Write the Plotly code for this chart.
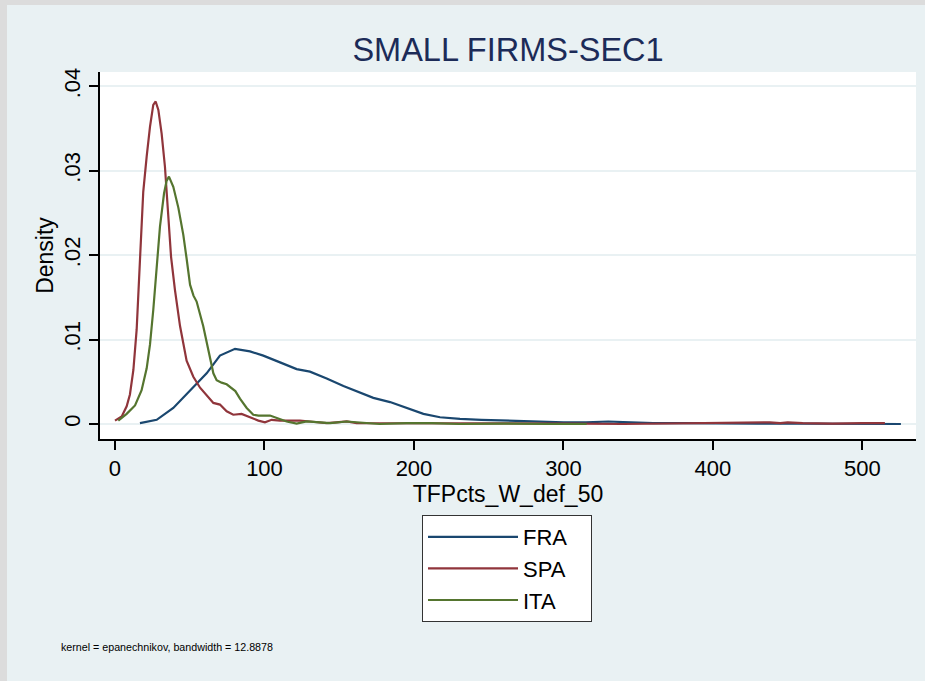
import plotly.graph_objects as go

# ---------------- data ----------------
fra_x = [16.7, 27.9, 39, 50.2, 61.3, 70.2, 80.3, 90.3, 99.2, 110.4, 121.5, 130.4, 141.6,
         152.8, 163.9, 172.8, 184, 195.1, 206.3, 217.4, 230.8, 245, 260, 280, 300, 315,
         330, 345, 360, 380, 400, 430, 460, 490, 525.7]
fra_y = [0.0001, 0.0005, 0.0019, 0.0039, 0.0060, 0.0081, 0.0089, 0.0086, 0.0081, 0.0073,
         0.0065, 0.0062, 0.0054, 0.0045, 0.0037, 0.0031, 0.0026, 0.0019, 0.0012, 0.0008,
         0.0006, 0.0005, 0.0004, 0.0003, 0.0002, 0.0002, 0.0003, 0.0002, 0.0001, 0.0001,
         0.00005, 0.00005, 0.00005, 0.00003, 0.0]

spa_x = [0, 4.5, 7.8, 10, 12.3, 14.5, 16.7, 18.9, 21.2, 23.4, 25.6, 27.2, 29, 31.2, 33.4,
         35.7, 37.5, 40.1, 43.5, 47.9, 52.4, 56.9, 61.3, 65.8, 70.2, 74.7, 79.1, 84.7, 90.3,
         95.9, 100.3, 104.8, 110.4, 116, 123.7, 130.4, 141.6, 148, 155, 161.6, 175, 190,
         210, 230, 250, 280, 310, 340, 370, 400, 425, 438, 445, 450, 460, 480, 500, 515]
spa_y = [0.0004, 0.0009, 0.0021, 0.0035, 0.0064, 0.0112, 0.0194, 0.0275, 0.0317, 0.0352,
         0.0378, 0.0382, 0.0372, 0.0344, 0.0305, 0.0250, 0.0198, 0.0159, 0.0116, 0.0075,
         0.0056, 0.0043, 0.0034, 0.0025, 0.0023, 0.0015, 0.0011, 0.0012, 0.0008, 0.0004,
         0.0002, 0.0005, 0.0004, 0.0004, 0.0004, 0.0003, 0.0001, 0.0002, 0.0003, 0.0001,
         0.0001, 0.00005, 0.0001, 0.00005, 0.0001, 0.00005, 0.00005, 0.0, 0.00005, 0.0001,
         0.0001, 0.0002, 0.0001, 0.0002, 0.0001, 0.00005, 0.0001, 0.0001]

ita_x = [2.2, 7.8, 13.4, 17.8, 21.2, 23.4, 25.6, 27.9, 30.1, 32.8, 34.5, 36.1, 39, 42.4,
         45.7, 47.9, 50.2, 52.5, 54.6, 59, 62.4, 65.8, 68, 71.3, 74.7, 78, 80.5, 83.6, 88.1,
         92.5, 96, 103.7, 108.2, 114.8, 121.5, 128.2, 137.1, 143.8, 155, 163.9, 177, 195,
         212, 230, 260, 290, 315.5]
ita_y = [0.0004, 0.0012, 0.0022, 0.0040, 0.0066, 0.0094, 0.0135, 0.0185, 0.0234, 0.0273,
         0.0288, 0.0293, 0.0281, 0.0256, 0.0224, 0.0196, 0.0165, 0.0152, 0.0145, 0.0116,
         0.0088, 0.0060, 0.0052, 0.0049, 0.0047, 0.0043, 0.0039, 0.0030, 0.0019, 0.0011,
         0.0010, 0.0010, 0.0007, 0.0003, 0.00005, 0.0003, 0.0002, 0.0001, 0.0003, 0.0002,
         0.0, 0.0001, 0.0001, 0.0, 0.00005, 0.0, 0.0]

series_names = ["FRA", "SPA", "ITA"]
x_ticks = [0, 100, 200, 300, 400, 500]
x_ticktext = ["0", "100", "200", "300", "400", "500"]
y_ticks = [0, 0.01, 0.02, 0.03, 0.04]
y_ticktext = ["0", ".01", ".02", ".03", ".04"]

title_text = "SMALL FIRMS-SEC1"
x_title = "TFPcts_W_def_50"
y_title = "Density"
note_text = "kernel = epanechnikov, bandwidth = 12.8878"

assert len(fra_x) == len(fra_y)
assert len(spa_x) == len(spa_y)
assert len(ita_x) == len(ita_y)

# ---------------- styling ----------------
colors = ["#1A476F", "#90353B", "#55752F"]
BG = "#E9F1F3"
FONT = "Liberation Sans, Arial, sans-serif"

W, H = 925, 681
ML, MR, MT, MB = 100, 9, 72, 242
PW = W - ML - MR
PH = H - MT - MB

fig = go.Figure()
pad = "\u00a0\u00a0\u00a0"
for name, xs, ys, c in zip(series_names, [fra_x, spa_x, ita_x], [fra_y, spa_y, ita_y], colors):
    fig.add_trace(go.Scatter(x=xs, y=ys, mode="lines", name=name + pad,
                             line=dict(color=c, width=2.2)))

def px_x(p):
    return (p - ML) / PW

def px_y(p):
    return (H - MB - p) / PH

fig.update_layout(
    width=W, height=H, autosize=False,
    margin=dict(l=ML, r=MR, t=MT, b=MB, pad=0),
    paper_bgcolor=BG, plot_bgcolor="white",
    font=dict(family=FONT, color="black", size=22),
    title=dict(text=title_text, xref="paper", x=px_x(508), xanchor="center",
               yref="container", y=1 - 50 / H, yanchor="middle",
               font=dict(family=FONT, size=32.5, color="#1C2B58")),
    xaxis=dict(range=[-10.03, 535.8], tickvals=x_ticks, ticktext=x_ticktext,
               showgrid=False, zeroline=False, showline=True, linecolor="black",
               linewidth=1.5, ticks="outside", ticklen=9, tickcolor="black",
               tickwidth=1.5, ticklabelstandoff=0,
               tickfont=dict(size=22),
               title=dict(text=x_title, font=dict(size=23), standoff=0)),
    yaxis=dict(range=[-0.001775, 0.04169], tickvals=y_ticks, ticktext=y_ticktext,
               showgrid=True, gridcolor=BG, gridwidth=2, zeroline=False,
               showline=True, linecolor="black", linewidth=1.5,
               ticks="outside", ticklen=9, tickcolor="black", tickwidth=1.5,
               tickangle=-90, tickfont=dict(size=22),
               title=dict(text=y_title, font=dict(size=23), standoff=0)),
    legend=dict(x=px_x(422), y=px_y(515), xanchor="left", yanchor="top",
                bgcolor="white", bordercolor="#333333", borderwidth=1,
                font=dict(size=22), itemwidth=90, orientation="v"),
    showlegend=True,
)

fig.add_annotation(text=note_text, xref="paper", yref="paper",
                   x=px_x(59), y=px_y(647), xanchor="left", yanchor="middle",
                   showarrow=False,
                   font=dict(family=FONT, size=10.7, color="black"))

# light-grey outer frame (left and top strips)
fig.add_shape(type="rect", xref="paper", yref="paper",
              x0=px_x(0), x1=px_x(7), y0=px_y(H), y1=px_y(0),
              fillcolor="#DCDCDC", line=dict(width=0), layer="above")
fig.add_shape(type="rect", xref="paper", yref="paper",
              x0=px_x(0), x1=px_x(W), y0=px_y(5), y1=px_y(0),
              fillcolor="#DCDCDC", line=dict(width=0), layer="above")

fig.write_html("out.html", config={"displayModeBar": False},
               post_script="document.body.style.margin='0';")
